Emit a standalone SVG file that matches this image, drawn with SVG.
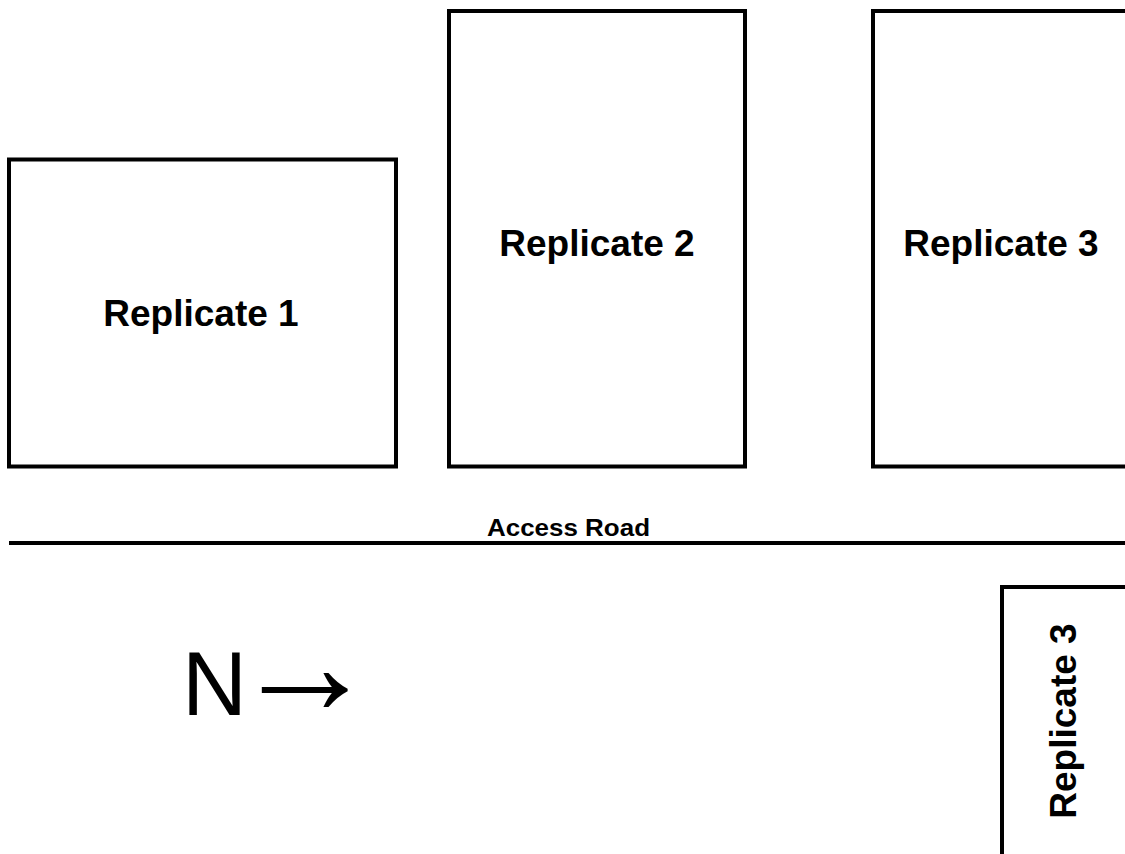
<svg xmlns="http://www.w3.org/2000/svg" width="1125" height="854" viewBox="0 0 1125 854">
<style>
.plot{fill:#fff;stroke:#000;stroke-width:4}
.lbl{font-family:"Liberation Sans",Arial,sans-serif;font-weight:bold;font-size:37px;fill:#000;text-anchor:middle}
</style>
<rect width="1125" height="854" fill="#fff"/>
<g id="replicate1"><rect class="plot" x="9" y="159.5" width="387" height="307"/><text class="lbl" x="201" y="326">Replicate 1</text></g>
<g id="replicate2"><rect class="plot" x="449" y="11" width="296" height="455.5"/><text class="lbl" x="597" y="256">Replicate 2</text></g>
<g id="replicate3"><rect class="plot" x="873" y="11" width="296" height="455.5"/><text class="lbl" x="1001" y="256">Replicate 3</text></g>
<g id="road"><line x1="9" y1="543" x2="1125" y2="543" stroke="#000" stroke-width="4"/><text x="487" y="536" font-family="Liberation Sans,Arial,sans-serif" font-weight="bold" font-size="24" textLength="163" lengthAdjust="spacingAndGlyphs">Access Road</text></g>
<g id="replicate3b"><rect class="plot" x="1002" y="587" width="200" height="300"/><text class="lbl" transform="translate(1076,721) rotate(-90)" x="0" y="0">Replicate 3</text></g>
<g id="north"><text x="182" y="715" font-family="Liberation Sans,Arial,sans-serif" font-size="90">N<tspan font-size="145" dx="-15" dy="-1">→</tspan></text></g>
<g id="connectors"></g>
</svg>
